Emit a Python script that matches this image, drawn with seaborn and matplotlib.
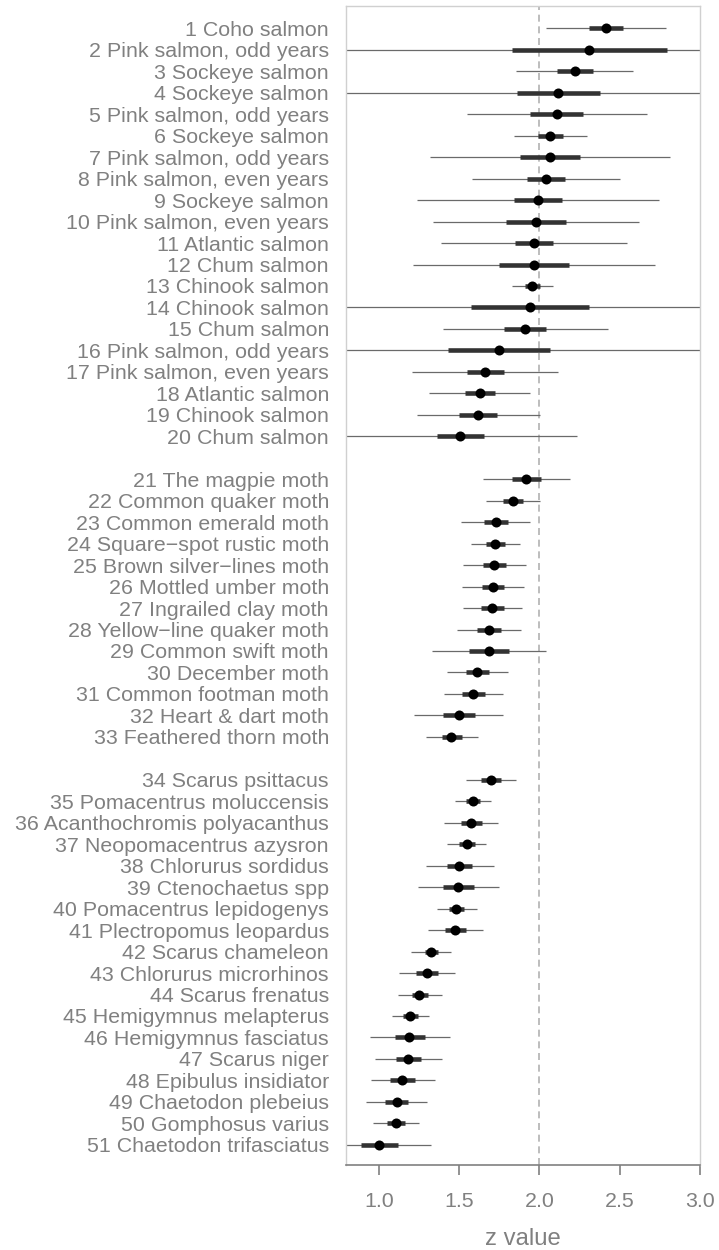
import numpy as np
import pandas as pd
import matplotlib
matplotlib.use("Agg")
import matplotlib.pyplot as plt
import seaborn as sns

labels = [
    "1 Coho salmon", "2 Pink salmon, odd years", "3 Sockeye salmon", "4 Sockeye salmon",
    "5 Pink salmon, odd years", "6 Sockeye salmon", "7 Pink salmon, odd years",
    "8 Pink salmon, even years", "9 Sockeye salmon", "10 Pink salmon, even years",
    "11 Atlantic salmon", "12 Chum salmon", "13 Chinook salmon", "14 Chinook salmon",
    "15 Chum salmon", "16 Pink salmon, odd years", "17 Pink salmon, even years",
    "18 Atlantic salmon", "19 Chinook salmon", "20 Chum salmon",
    "21 The magpie moth", "22 Common quaker moth", "23 Common emerald moth",
    "24 Square\u2212spot rustic moth", "25 Brown silver\u2212lines moth", "26 Mottled umber moth",
    "27 Ingrailed clay moth", "28 Yellow\u2212line quaker moth", "29 Common swift moth",
    "30 December moth", "31 Common footman moth", "32 Heart & dart moth",
    "33 Feathered thorn moth",
    "34 Scarus psittacus", "35 Pomacentrus moluccensis", "36 Acanthochromis polyacanthus",
    "37 Neopomacentrus azysron", "38 Chlorurus sordidus", "39 Ctenochaetus spp",
    "40 Pomacentrus lepidogenys", "41 Plectropomus leopardus", "42 Scarus chameleon",
    "43 Chlorurus microrhinos", "44 Scarus frenatus", "45 Hemigymnus melapterus",
    "46 Hemigymnus fasciatus", "47 Scarus niger", "48 Epibulus insidiator",
    "49 Chaetodon plebeius", "50 Gomphosus varius", "51 Chaetodon trifasciatus",
]
group = [1] * 20 + [2] * 13 + [3] * 18

median = [2.415, 2.31, 2.221, 2.119, 2.108, 2.067, 2.065, 2.042, 1.99, 1.979,
          1.967, 1.967, 1.956, 1.94, 1.912, 1.75, 1.658, 1.627, 1.615, 1.504,
          1.919, 1.833, 1.727, 1.723, 1.715, 1.708, 1.704, 1.685, 1.685, 1.612,
          1.588, 1.496, 1.452,
          1.698, 1.585, 1.573, 1.546, 1.50, 1.492, 1.483, 1.475, 1.323, 1.298,
          1.252, 1.194, 1.19, 1.183, 1.146, 1.11, 1.106, 1.002]
inner_lo = [2.308, 1.831, 2.11, 1.86, 1.944, 1.99, 1.881, 1.923, 1.844, 1.792,
            1.85, 1.746, 1.912, 1.575, 1.781, 1.429, 1.546, 1.535, 1.496, 1.36,
            1.829, 1.771, 1.652, 1.669, 1.646, 1.64, 1.637, 1.612, 1.562, 1.54,
            1.519, 1.398, 1.39,
            1.635, 1.544, 1.51, 1.498, 1.423, 1.40, 1.437, 1.41, 1.287, 1.233,
            1.206, 1.148, 1.10, 1.106, 1.071, 1.037, 1.048, 0.885]
inner_hi = [2.523, 2.796, 2.336, 2.381, 2.273, 2.148, 2.252, 2.158, 2.144, 2.169,
            2.085, 2.187, 2.002, 2.308, 2.044, 2.069, 1.779, 1.721, 1.737, 1.652,
            2.008, 1.90, 1.804, 1.783, 1.79, 1.781, 1.777, 1.762, 1.808, 1.685,
            1.658, 1.598, 1.519,
            1.76, 1.631, 1.64, 1.596, 1.581, 1.59, 1.533, 1.544, 1.365, 1.367,
            1.308, 1.242, 1.287, 1.26, 1.225, 1.183, 1.162, 1.121]
outer_lo = [2.044, 0.5, 1.856, 0.5, 1.546, 1.844, 1.317, 1.579, 1.237, 1.337,
            1.387, 1.21, 1.831, 0.5, 1.40, 0.5, 1.206, 1.31, 1.235, 0.75,
            1.65, 1.665, 1.512, 1.575, 1.521, 1.519, 1.521, 1.485, 1.329, 1.421,
            1.406, 1.221, 1.29,
            1.54, 1.473, 1.406, 1.427, 1.29, 1.24, 1.36, 1.306, 1.198, 1.127,
            1.119, 1.079, 0.942, 0.975, 0.948, 0.919, 0.965, 0.75]
outer_hi = [2.789, 3.5, 2.585, 3.5, 2.669, 2.294, 2.815, 2.502, 2.748, 2.623,
            2.546, 2.719, 2.083, 3.5, 2.425, 3.5, 2.115, 1.942, 2.002, 2.233,
            2.192, 2.002, 1.942, 1.877, 1.915, 1.902, 1.894, 1.887, 2.042, 1.804,
            1.773, 1.773, 1.619,
            1.854, 1.698, 1.742, 1.667, 1.715, 1.748, 1.61, 1.648, 1.448, 1.475,
            1.39, 1.312, 1.444, 1.39, 1.348, 1.302, 1.248, 1.327]

x_ticks = [1.0, 1.5, 2.0, 2.5, 3.0]
x_label = "z value"

df = pd.DataFrame({"label": labels, "group": group, "median": median,
                   "inner_lo": inner_lo, "inner_hi": inner_hi,
                   "outer_lo": outer_lo, "outer_hi": outer_hi})
df["pos"] = np.arange(1, len(df) + 1) + (df["group"] - 1)

sns.set_theme(style="white")
plt.rcParams["font.family"] = ["Liberation Sans", "DejaVu Sans"]

fig = plt.figure(figsize=(7.19, 12.5), dpi=100)
ax = fig.add_axes([0.4812, 0.068, 0.4920, 0.9272])

grey_text = "#808080"
ax.axvline(2.0, color="#bdbdbd", linestyle=(0, (3.6, 2.4)), linewidth=1.4, zorder=1)
ax.hlines(df["pos"], df["outer_lo"], df["outer_hi"], color="#6a6a6a", linewidth=0.9, zorder=2)
ax.hlines(df["pos"], df["inner_lo"], df["inner_hi"], color="#333333", linewidth=3.3, zorder=3)
sns.scatterplot(data=df, x="median", y="pos", ax=ax, color="black", s=52,
                edgecolor="black", linewidth=0, zorder=4, legend=False)

ax.set_xlim(0.794, 3.0)
ax.set_ylim(53.94, -0.04)
ax.set_xticks(x_ticks)
ax.set_xticklabels([f"{t:.1f}" for t in x_ticks])
ax.set_yticks(df["pos"])
ax.set_yticklabels(df["label"])
ax.set_xlabel(x_label, fontsize=17.2, color=grey_text, labelpad=12.5)
ax.set_ylabel("")
ax.tick_params(axis="y", length=0, pad=12.3, labelsize=15.4, labelcolor=grey_text)
ax.tick_params(axis="x", length=7, width=1.2, color="#808080", pad=12.5,
               labelsize=15.4, labelcolor=grey_text, bottom=True, direction="out")
for side in ["top", "right", "left"]:
    ax.spines[side].set_color("#d0d0d0")
    ax.spines[side].set_linewidth(1.0)
ax.spines["bottom"].set_color("#808080")
ax.spines["bottom"].set_linewidth(1.2)
ax.grid(False)

fig.savefig("out.png", dpi=100)
